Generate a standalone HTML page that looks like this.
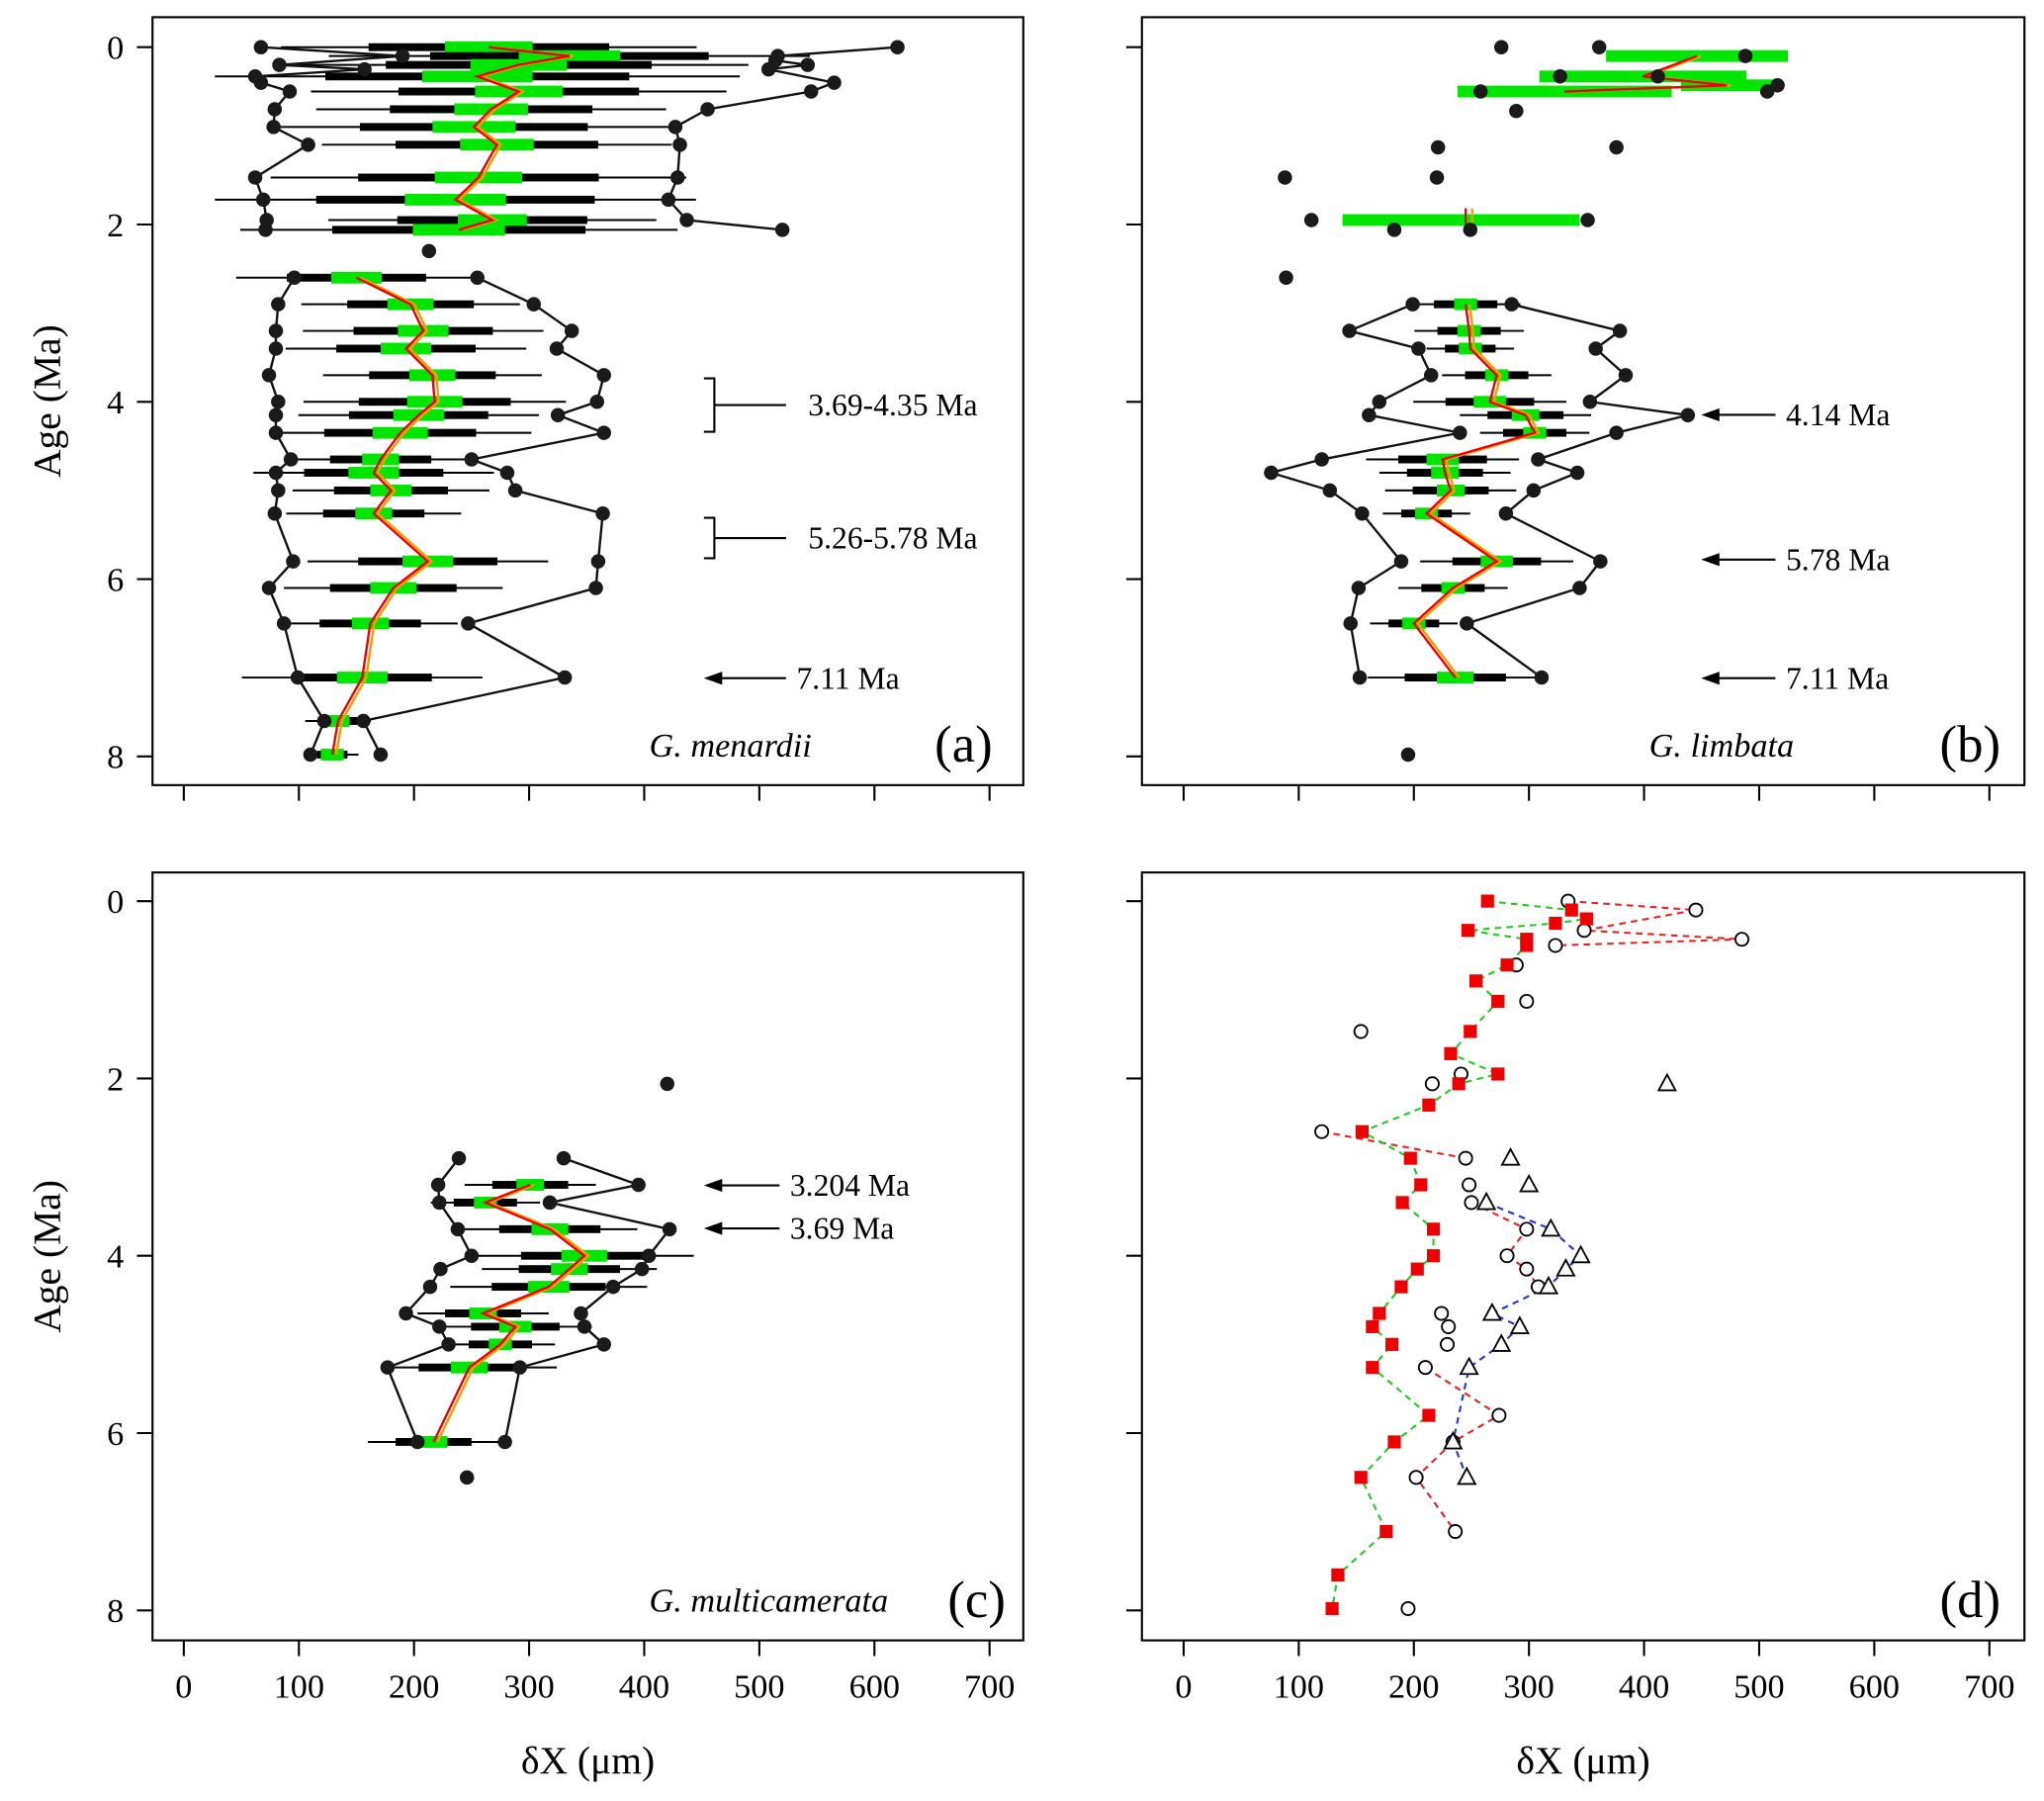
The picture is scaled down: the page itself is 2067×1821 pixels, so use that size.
<!DOCTYPE html>
<html><head><meta charset="utf-8"><style>
html,body{margin:0;padding:0;background:#fff}
svg{display:block}
text{font-family:"Liberation Serif",serif;fill:#000}
</style></head><body>
<svg id="chart" width="2067" height="1821" viewBox="0 0 1568 1381" xmlns="http://www.w3.org/2000/svg"></svg>
<script>
// ---------- Panel (a) G. menardii ----------
const aUpLeftAge=[0,0.1,0.2,0.25,0.33,0.4,0.5,0.7,0.9,1.1,1.47,1.72,1.95,2.06];
const aUpLeftVal=[67,190,83,157,62,67,92,79,78,108,62,69,72,71];
const aUpRightAge=[0,0.1,0.15,0.2,0.25,0.4,0.5,0.7,0.9,1.1,1.47,1.72,1.95,2.06];
const aUpRightVal=[620,516,514,542,508,565,545,455,427,431,429,421,437,520];
const aUpMeanAge=[0,0.1,0.2,0.33,0.5,0.7,0.9,1.1,1.47,1.72,1.95,2.06];
const aUpMeanVal=[265,335,291,255,291,267,252,272,256,236,268,239];
const aUpSpread=[95,110,105,120,95,80,90,80,95,110,75,100];
const aSingleAge=[2.3];
const aSingleVal=[213];
const aLoAge=[2.6,2.9,3.2,3.4,3.7,4.0,4.15,4.35,4.65,4.8,5.0,5.26,5.8,6.1,6.5,7.11,7.6,7.98];
const aLoLeft=[96,82,80,80,74,82,80,80,93,80,82,79,95,74,87,99,122,110];
const aLoRight=[255,304,337,324,365,359,325,365,250,281,288,364,360,358,247,331,156,171];
const aLoMean=[150,197,208,193,216,218,204,188,171,165,180,165,212,182,162,155,134,129];
const aLoSpread=[55,50,55,55,50,60,55,60,40,55,45,40,55,50,40,55,15,12];
// ---------- Panel (b) G. limbata ----------
const bPtAge=[0,0,0.1,0.33,0.33,0.43,0.5,0.5,0.72,1.13,1.13,1.47,1.47,1.95,1.95,2.06,2.06,2.6,7.98];
const bPtVal=[276,361,488,327,412,516,507,258,289,221,376,88,220,111,351,183,249,89,195];
const bUpMeanAge=[0.1,0.33,0.43,0.5];
const bUpMeanVal=[446,399,472,331];
const bUpHalf=[79,90,40,93];
const bMidAge=[1.95];
const bMidVal=[241];
const bMidHalf=[103];
const bMidMean=[245];
const bLoAge=[2.9,3.2,3.4,3.7,4.0,4.15,4.35,4.65,4.8,5.0,5.26,5.8,6.1,6.5,7.11];
const bLoLeft=[199,144,204,215,170,161,240,120,76,127,155,189,152,145,153];
const bLoRight=[285,379,358,384,353,438,376,308,342,304,280,362,344,246,311];
const bLoMean=[245,248,249,272,266,297,305,225,227,232,211,272,234,200,236];
const bLoSpread=[25,25,20,25,35,30,25,35,30,30,20,35,25,20,40];
// ---------- Panel (c) G. multicamerata ----------
const cAge=[2.9,3.2,3.4,3.7,4.0,4.15,4.35,4.65,4.8,5.0,5.26,6.1];
const cLeft=[239,221,222,238,250,223,214,193,222,230,177,203];
const cRight=[330,395,318,422,404,398,373,345,348,365,292,279];
const cMeanAge=[3.2,3.4,3.7,4.0,4.15,4.35,4.65,4.8,5.0,5.26,6.1];
const cMeanVal=[301,262,318,348,335,317,260,288,275,248,217];
const cSpread=[30,25,40,50,40,45,30,35,25,40,30];
const cSingleAge=[2.06,6.5];
const cSingleVal=[420,246];
// ---------- Panel (d) comparison ----------
const dSqAge=[0,0.1,0.2,0.25,0.33,0.43,0.5,0.72,0.9,1.13,1.47,1.72,1.95,2.06,2.3,2.6,2.9,3.2,3.4,3.7,4.0,4.15,4.35,4.65,4.8,5.0,5.26,5.8,6.1,6.5,7.11,7.6,7.98];
const dSqVal=[264,337,350,323,247,298,298,281,254,273,249,232,273,239,213,155,197,206,190,217,217,203,189,170,164,181,164,213,183,154,176,134,129];
const dCiAge=[0,0.1,0.33,0.43,0.5,0.72,1.13,1.47,1.95,2.06,2.6,2.9,3.2,3.4,3.7,4.0,4.15,4.35,4.65,4.8,5.0,5.26,5.8,6.1,6.5,7.11,7.98];
const dCiVal=[334,445,348,485,323,289,298,154,241,216,120,245,248,250,298,281,298,308,224,230,229,210,274,234,202,236,195];
const dTrAge=[2.06,2.9,3.2,3.4,3.7,4.0,4.15,4.35,4.65,4.8,5.0,5.26,6.1,6.5];
const dTrVal=[420,284,300,263,319,345,332,317,268,292,276,248,234,246];
const xTicks=[0,100,200,300,400,500,600,700];
const yTicks=[0,2,4,6,8];

const svg=document.getElementById('chart');
const NS='http://www.w3.org/2000/svg';
function mk(tag,attrs,parent){const e=document.createElementNS(NS,tag);for(const k in attrs)e.setAttribute(k,attrs[k]);(parent||svg).appendChild(e);return e;}
function txt(s,x,y,size,anchor,parent,italic){const t=mk('text',{x:x,y:y,'font-size':size,'text-anchor':anchor||'start'},parent);if(italic)t.setAttribute('font-style','italic');t.textContent=s;return t;}

const panels={
 a:{x0:117,x1:785,y0:13,y1:602,xz:141,yz:36},
 b:{x0:876,x1:1553,y0:13,y1:602,xz:908,yz:36},
 c:{x0:117,x1:785,y0:669,y1:1258,xz:141,yz:691},
 d:{x0:876,x1:1553,y0:669,y1:1258,xz:908,yz:691}
};
const XS=0.883, YS=68;
function sx(p,v){return p.xz+v*XS;}
function sy(p,a){return p.yz+a*YS;}

function frame(key,showXLab,showYLab){
  const p=panels[key];
  const g=mk('g',{});
  
  
  const r=mk('rect',{x:p.x0,y:p.y0,width:p.x1-p.x0,height:p.y1-p.y0,fill:'none',stroke:'#000','stroke-width':1.6},g);
  
  
  xTicks.forEach(v=>{
    const l=mk('line',{x1:sx(p,v),x2:sx(p,v),y1:p.y1,y2:p.y1+12,stroke:'#000','stroke-width':1.6},g);
    
    
    if(showXLab){const t=txt(String(v),sx(p,v),p.y1+44,26,'middle',g);}
  });
  yTicks.forEach(v=>{
    const l=mk('line',{x1:p.x0-12,x2:p.x0,y1:sy(p,v),y2:sy(p,v),stroke:'#000','stroke-width':1.6},g);
    
    
    if(showYLab){const t=txt(String(v),p.x0-22,sy(p,v)+9,26,'end',g);}
  });
  if(showYLab){
    const cy=(p.y0+p.y1)/2;
    const t=mk('text',{x:0,y:0,'font-size':30,'text-anchor':'middle',transform:`translate(46,${cy}) rotate(-90)`},g);
    t.textContent='Age (Ma)';
    
    
  }
  if(showXLab){
    const t=txt('δX (μm)',(p.x0+p.x1)/2,p.y1+102,30,'middle',g);
    
    
  }
  return g;
}
function envelope(p,ages,vals,g,name){
  const pts=ages.map((a,i)=>sx(p,vals[i])+','+sy(p,a)).join(' ');
  const pl=mk('polyline',{points:pts,fill:'none',stroke:'#111','stroke-width':1.8},g);
  
  
  ages.forEach((a,i)=>{
    const c=mk('circle',{cx:sx(p,vals[i]),cy:sy(p,a),r:5.5,fill:'#1a1a1a'},g);
    
    
  });
}
function dots(p,ages,vals,g){
  ages.forEach((a,i)=>{
    const c=mk('circle',{cx:sx(p,vals[i]),cy:sy(p,a),r:5.5,fill:'#1a1a1a'},g);
    
    
  });
}
function bars(p,ages,means,spread,g,noBlack){
  ages.forEach((a,i)=>{
    const y=sy(p,a),m=means[i],s=spread[i];
    if(!noBlack){
      const l=mk('line',{x1:sx(p,m-s*1.9),x2:sx(p,m+s*1.9),y1:y,y2:y,stroke:'#000','stroke-width':1.5},g);
      
      
      const r=mk('rect',{x:sx(p,m-s*1.1),y:y-3,width:s*2.2*XS,height:6,fill:'#000'},g);
      
      
    }
    const gw=noBlack?s:Math.max(s*0.4,10);
    const gr=mk('rect',{x:sx(p,m-gw),y:y-4.5,width:gw*2*XS,height:9,fill:'#00e600'},g);
    
    
  });
}
function meanLines(p,ages,means,g){
  const red=ages.map((a,i)=>sx(p,means[i])+','+sy(p,a)).join(' ');
  const ora=ages.map((a,i)=>(sx(p,means[i])+3)+','+sy(p,a)).join(' ');
  const o=mk('polyline',{points:ora,fill:'none',stroke:'#ff9900','stroke-width':1.8},g);
  
  
  const r=mk('polyline',{points:red,fill:'none',stroke:'#ee0000','stroke-width':1.8},g);
  
  
}
function arrow(x1,x2,y,label,g){
  const l=mk('line',{x1:x1,x2:x2+8,y1:y,y2:y,stroke:'#000','stroke-width':1.6},g);
  
  
  mk('polygon',{points:`${x2},${y} ${x2+14},${y-5} ${x2+14},${y+5}`,fill:'#000'},g);
  const t=txt(label,x1+8,y+8,24,'start',g);
  
  
}
function bracket(x,ya,yb,label,g){
  const pth=mk('path',{d:`M${x-8},${ya} H${x} V${yb} H${x-8} M${x},${(ya+yb)/2} H${x+55}`,fill:'none',stroke:'#000','stroke-width':1.6},g);
  
  
  const t=txt(label,x+72,(ya+yb)/2+8,24,'start',g);
  
  
}
function labels(p,species,letter,g,sxp,lx){
  if(species){const t=txt(species,sxp,p.y1-22,26,'start',g,true);}
  const t=txt(letter,lx,p.y1-18,40,'start',g);
  
  
}

// Panel a
let p=panels.a, g=frame('a',false,true);
bars(p,aUpMeanAge,aUpMeanVal,aUpSpread,g);
bars(p,aLoAge,aLoMean,aLoSpread,g);
envelope(p,aUpLeftAge,aUpLeftVal,g,'min');
envelope(p,aUpRightAge,aUpRightVal,g,'max');
envelope(p,aLoAge,aLoLeft,g,'min');
envelope(p,aLoAge,aLoRight,g,'max');
dots(p,aSingleAge,aSingleVal,g);
meanLines(p,aUpMeanAge,aUpMeanVal,g);
meanLines(p,aLoAge,aLoMean,g);
bracket(548,290,331,'3.69-4.35 Ma',g);
bracket(548,397,428,'5.26-5.78 Ma',g);
arrow(603,540,520,'7.11 Ma',g);
labels(p,'G. menardii','(a)',g,498,717);

// Panel b
p=panels.b; g=frame('b',false,false);
bars(p,bUpMeanAge,bUpMeanVal,bUpHalf,g,true);
bars(p,bMidAge,bMidVal,bMidHalf,g,true);
bars(p,bLoAge,bLoMean,bLoSpread,g);
meanLines(p,bUpMeanAge,bUpMeanVal,g);
bMidAge.forEach((a,i)=>{
  const x=sx(p,bMidMean[i]),y=sy(p,a);
  const r=mk('line',{x1:x,x2:x,y1:y-9,y2:y+9,stroke:'#ee0000','stroke-width':1.8},g);
  
  
  const o=mk('line',{x1:x+5,x2:x+5,y1:y-9,y2:y+9,stroke:'#ff9900','stroke-width':1.8},g);
  
  
});
dots(p,bPtAge,bPtVal,g);
envelope(p,bLoAge,bLoLeft,g,'min');
envelope(p,bLoAge,bLoRight,g,'max');
meanLines(p,bLoAge,bLoMean,g);
arrow(1362,1305,318,'4.14 Ma',g);
arrow(1362,1305,429,'5.78 Ma',g);
arrow(1362,1305,520,'7.11 Ma',g);
labels(p,'G. limbata','(b)',g,1265,1488);

// Panel c
p=panels.c; g=frame('c',true,true);
bars(p,cMeanAge,cMeanVal,cSpread,g);
envelope(p,cAge,cLeft,g,'min');
envelope(p,cAge,cRight,g,'max');
dots(p,cSingleAge,cSingleVal,g);
meanLines(p,cMeanAge,cMeanVal,g);
arrow(598,540,909,'3.204 Ma',g);
arrow(598,540,942,'3.69 Ma',g);
labels(p,'G. multicamerata','(c)',g,498,727);

// Panel d
p=panels.d; g=frame('d',true,false);
function dashed(ages,vals,color,name){
  const pl=mk('polyline',{points:ages.map((a,i)=>sx(p,vals[i])+','+sy(p,a)).join(' '),fill:'none',stroke:color,'stroke-width':1.6,'stroke-dasharray':'5,4'},g);
  
  
}
[[0,5],[10,12],[13,18],[21,26]].forEach(s=>dashed(dCiAge.slice(s[0],s[1]),dCiVal.slice(s[0],s[1]),'#ee2222','limbata-line'));
dashed(dTrAge.slice(3),dTrVal.slice(3),'#2233dd','multicamerata-line');
dashed(dSqAge,dSqVal,'#22cc22','menardii-line');
dCiAge.forEach((a,i)=>{
  const c=mk('circle',{cx:sx(p,dCiVal[i]),cy:sy(p,a),r:5,fill:'#fff',stroke:'#000','stroke-width':1.4},g);
  
  
});
dTrAge.forEach((a,i)=>{
  const x=sx(p,dTrVal[i]),y=sy(p,a);
  const t=mk('polygon',{points:`${x},${y-7} ${x-6.5},${y+5} ${x+6.5},${y+5}`,fill:'#fff',stroke:'#000','stroke-width':1.4},g);
  
  
});
dSqAge.forEach((a,i)=>{
  const r=mk('rect',{x:sx(p,dSqVal[i])-5,y:sy(p,a)-5,width:10,height:10,fill:'#ee0000'},g);
  
  
});
labels(p,null,'(d)',g,0,1488);
</script>
</body></html>
